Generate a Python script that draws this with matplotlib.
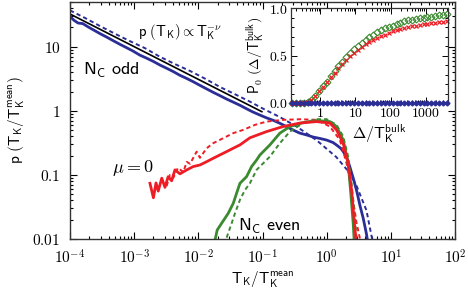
import numpy as np
import matplotlib
matplotlib.use("Agg")
import matplotlib.pyplot as plt
from matplotlib.ticker import FixedLocator, FixedFormatter, LogLocator, NullFormatter, MultipleLocator

plt.rcParams["mathtext.fontset"] = "cm"

# main panel: log10(T_K/T_K^mean) and p values
odd_logt = [-4.0, -3.94, -3.875, -3.80, -3.72, -3.62, -3.53, -3.43, -3.33, -3.22, -3.12,
            -3.02, -2.91, -2.80, -2.70, -2.60, -2.49, -2.39, -2.29, -2.18, -2.08, -1.975,
            -1.87, -1.77, -1.66, -1.56, -1.45, -1.35, -1.25, -1.15, -1.04, -0.94, -0.83,
            -0.73, -0.63, -0.52, -0.42, -0.31, -0.21, -0.10, 0.0, 0.10, 0.16, 0.22, 0.26,
            0.31, 0.36, 0.42, 0.47, 0.52, 0.57, 0.62, 0.64]
odd_p = [30.0, 26.0, 23.5, 23.0, 20.5, 18.0, 16.0, 14.2, 12.5, 10.9, 9.7,
         8.6, 7.4, 6.6, 5.9, 5.2, 4.6, 4.1, 3.6, 3.2, 2.85, 2.5,
         2.2, 1.95, 1.72, 1.53, 1.36, 1.22, 1.08, 0.96, 0.86, 0.78, 0.71,
         0.64, 0.57, 0.50, 0.45, 0.42, 0.39, 0.37, 0.35, 0.32, 0.29, 0.26, 0.23,
         0.19, 0.135, 0.085, 0.055, 0.033, 0.021, 0.012, 0.009]

odd2_logt = [-4.0, -3.77, -3.53, -3.30, -3.07, -2.83, -2.60, -2.37, -2.13, -1.90, -1.66,
             -1.43, -1.20, -0.99, -0.73, -0.47, -0.16, 0.15, 0.36, 0.47, 0.62, 0.70, 0.72]
odd2_p = [37.0, 28.3, 21.0, 16.0, 12.3, 9.5, 7.0, 5.4, 4.2, 3.2, 2.35,
          1.82, 1.40, 1.08, 0.80, 0.57, 0.35, 0.19, 0.107, 0.066, 0.028, 0.011, 0.009]

powlaw_logt = [-4.0, -1.01]
powlaw_p = [32.5, 0.97]

mu0_logt = [-2.754, -2.70, -2.66, -2.625, -2.57, -2.52, -2.47, -2.416, -2.364, -2.287,
            -2.18, -2.08, -1.975, -1.87, -1.768, -1.664, -1.56, -1.456, -1.352, -1.196,
            -0.936, -0.678, -0.417, -0.157, 0.05, 0.154, 0.257, 0.335, 0.388, 0.424, 0.46]
mu0_p = [0.074, 0.044, 0.075, 0.056, 0.089, 0.064, 0.094, 0.081, 0.12, 0.104,
         0.12, 0.135, 0.143, 0.161, 0.182, 0.205, 0.231, 0.261, 0.294, 0.38,
         0.475, 0.569, 0.645, 0.68, 0.645, 0.505, 0.313, 0.152, 0.058, 0.022, 0.009]

mu02_logt = [-2.494, -2.442, -2.39, -2.318, -2.235, -2.18, -2.13, -2.026, -1.975, -1.87,
             -1.768, -1.612, -1.456, -1.30, -1.118, -0.936, -0.678, -0.417, -0.157, 0.05,
             0.206, 0.31, 0.388, 0.466, 0.53]
mu02_p = [0.067, 0.10, 0.09, 0.129, 0.111, 0.16, 0.149, 0.231, 0.185, 0.261,
          0.313, 0.374, 0.449, 0.505, 0.604, 0.68, 0.724, 0.74, 0.724, 0.569,
          0.352, 0.152, 0.058, 0.0178, 0.009]

even_logt = [-1.741, -1.706, -1.637, -1.586, -1.534, -1.456, -1.403, -1.352, -1.248,
             -1.17, -1.092, -1.04, -0.885, -0.729, -0.573, -0.366, -0.157, 0.05, 0.154,
             0.257, 0.335, 0.372, 0.413, 0.43]
even_p = [0.0095, 0.0138, 0.0176, 0.021, 0.0252, 0.036, 0.052, 0.074, 0.094,
          0.135, 0.171, 0.205, 0.294, 0.449, 0.569, 0.657, 0.706, 0.68, 0.569,
          0.352, 0.152, 0.058, 0.0178, 0.009]

even2_logt = [-1.559, -1.481, -1.43, -1.352, -1.274, -1.196, -1.092, -0.885, -0.729,
              -0.573, -0.366, -0.157, -0.0016, 0.154, 0.257, 0.335, 0.388, 0.44, 0.47]
even2_p = [0.0105, 0.0176, 0.025, 0.0407, 0.058, 0.074, 0.12, 0.193, 0.313,
           0.475, 0.645, 0.742, 0.742, 0.604, 0.40, 0.193, 0.074, 0.022, 0.009]

# inset: log10(Delta/T_K^bulk) and P0
inset_logd = [-0.80, -0.69, -0.58, -0.47, -0.36, -0.25, -0.14, -0.03, 0.08, 0.19, 0.30,
              0.41, 0.52, 0.63, 0.74, 0.85, 0.96, 1.07, 1.18, 1.29, 1.40, 1.51, 1.62,
              1.73, 1.84, 1.95, 2.06, 2.17, 2.28, 2.39, 2.50, 2.61, 2.72, 2.83, 2.94,
              3.05, 3.16, 3.27, 3.38, 3.49, 3.60]
p0_even = [0, 0, 0, 0, 0.008, 0.035, 0.075, 0.125, 0.175, 0.225, 0.28,
           0.335, 0.39, 0.435, 0.485, 0.53, 0.57, 0.60, 0.635, 0.665, 0.69, 0.72, 0.745,
           0.765, 0.785, 0.80, 0.815, 0.83, 0.845, 0.86, 0.87, 0.875, 0.885, 0.89, 0.90,
           0.905, 0.91, 0.92, 0.925, 0.93, 0.935]
p0_mu0 = [0, 0, 0, 0, 0.008, 0.035, 0.075, 0.125, 0.17, 0.22, 0.27,
          0.315, 0.365, 0.41, 0.45, 0.49, 0.525, 0.56, 0.59, 0.62, 0.64, 0.665, 0.685,
          0.705, 0.72, 0.74, 0.755, 0.765, 0.78, 0.79, 0.80, 0.81, 0.815, 0.825, 0.83,
          0.835, 0.84, 0.845, 0.85, 0.855, 0.86]
p0_odd = [0] * len(inset_logd)

BLUE = "#2b2e97"
GREEN = "#3b8a30"
RED = "#ee1c25"
DASH = (0, (2.2, 1.6))


def tx(v):
    return 10 ** np.array(v)


fig = plt.figure(figsize=(4.68, 2.95), dpi=100)
ax = fig.add_axes([70 / 468, 56 / 295, 385 / 468, 237 / 295])

ax.plot(tx(odd2_logt), odd2_p, color=BLUE, lw=1.4, ls=DASH)
ax.plot(tx(odd_logt), odd_p, color=BLUE, lw=2.0)
ax.plot(tx(powlaw_logt), powlaw_p, color="black", lw=1.2)
ax.plot(tx(mu02_logt), mu02_p, color=RED, lw=1.4, ls=DASH)
ax.plot(tx(even2_logt), even2_p, color=GREEN, lw=1.4, ls=DASH)
ax.plot(tx(even_logt), even_p, color=GREEN, lw=2.0)
ax.plot(tx(mu0_logt), mu0_p, color=RED, lw=2.0)

ax.set_xscale("log")
ax.set_yscale("log")
ax.set_xlim(1e-4, 1e2)
ax.set_ylim(0.01, 50)
ax.xaxis.set_major_locator(FixedLocator([1e-4, 1e-3, 1e-2, 1e-1, 1, 10, 100]))
ax.xaxis.set_major_formatter(FixedFormatter([r"$10^{-4}$", r"$10^{-3}$", r"$10^{-2}$",
                                             r"$10^{-1}$", r"$10^{0}$", r"$10^{1}$", r"$10^{2}$"]))
ax.xaxis.set_minor_locator(LogLocator(base=10, subs=np.arange(2, 10), numticks=20))
ax.xaxis.set_minor_formatter(NullFormatter())
ax.yaxis.set_major_locator(FixedLocator([0.01, 0.1, 1, 10]))
ax.yaxis.set_major_formatter(FixedFormatter([r"$0.01$", r"$0.1$", r"$1$", r"$10$"]))
ax.yaxis.set_minor_locator(LogLocator(base=10, subs=np.arange(2, 10), numticks=20))
ax.yaxis.set_minor_formatter(NullFormatter())
ax.tick_params(which="both", direction="in", top=True, right=True, labelsize=11, width=0.8)
ax.tick_params(which="major", length=5, pad=7)
ax.tick_params(which="minor", length=2.5)
for s in ax.spines.values():
    s.set_linewidth(1.0)
    s.set_color("#333333")

ax.set_xlabel(r"$\mathsf{T_K/T_K^{mean}}$", fontsize=11, labelpad=2)
ax.set_ylabel(r"$\mathsf{p\ (T_K/T_K^{mean})}$", fontsize=11, labelpad=4)

fig.text(83 / 468, 1 - 75 / 295, r"$\mathsf{N_C\ odd}$", fontsize=13)
fig.text(138 / 468, 1 - 36 / 295, r"$\mathsf{p\ (T_K)} \propto \mathsf{T_K^{-\nu}}$", fontsize=10.5)
fig.text(112 / 468, 1 - 172 / 295, r"$\mu = \mathsf{0}$", fontsize=13)
fig.text(238 / 468, 1 - 231 / 295, r"$\mathsf{N_C\ even}$", fontsize=13)

# inset
ins = fig.add_axes([291 / 468, 192 / 295, 157 / 468, 95 / 295])
ins.plot(tx(inset_logd), p0_odd, color=BLUE, lw=1.0, marker="D", ms=2.5, clip_on=False, zorder=3)
ins.plot(tx(inset_logd), p0_even, ls="none", marker="D", ms=3.5, mfc="none", mec=GREEN,
         mew=0.8, clip_on=False)
ins.plot(tx(inset_logd), p0_mu0, ls="none", marker="x", ms=3.5, color=RED, mew=0.9, clip_on=False)
ins.set_xscale("log")
ins.set_xlim(0.148, 4300)
ins.set_ylim(0, 1.0)
ins.xaxis.set_major_locator(FixedLocator([1, 10, 100, 1000]))
ins.xaxis.set_major_formatter(FixedFormatter([r"$1$", r"$10$", r"$100$", r"$1000$"]))
ins.xaxis.set_minor_locator(LogLocator(base=10, subs=np.arange(2, 10), numticks=20))
ins.xaxis.set_minor_formatter(NullFormatter())
ins.yaxis.set_major_locator(FixedLocator([0, 0.5, 1.0]))
ins.yaxis.set_major_formatter(FixedFormatter([r"$0.0$", r"$0.5$", r"$1.0$"]))
ins.yaxis.set_minor_locator(MultipleLocator(0.1))
ins.tick_params(which="both", direction="in", top=True, right=True, labelsize=10, width=0.7)
ins.tick_params(which="major", length=4, pad=2)
ins.tick_params(which="minor", length=2)
for s in ins.spines.values():
    s.set_linewidth(0.9)
    s.set_color("#333333")
ins.set_xlabel(r"$\mathsf{\Delta/T_K^{bulk}}$", fontsize=11.5)
ins.xaxis.set_label_coords((379 - 291) / 157, -0.2)
ins.set_ylabel(r"$\mathsf{P_0\ (\Delta/T_K^{bulk})}$", fontsize=10, labelpad=2)

fig.savefig("out.png", dpi=100)
